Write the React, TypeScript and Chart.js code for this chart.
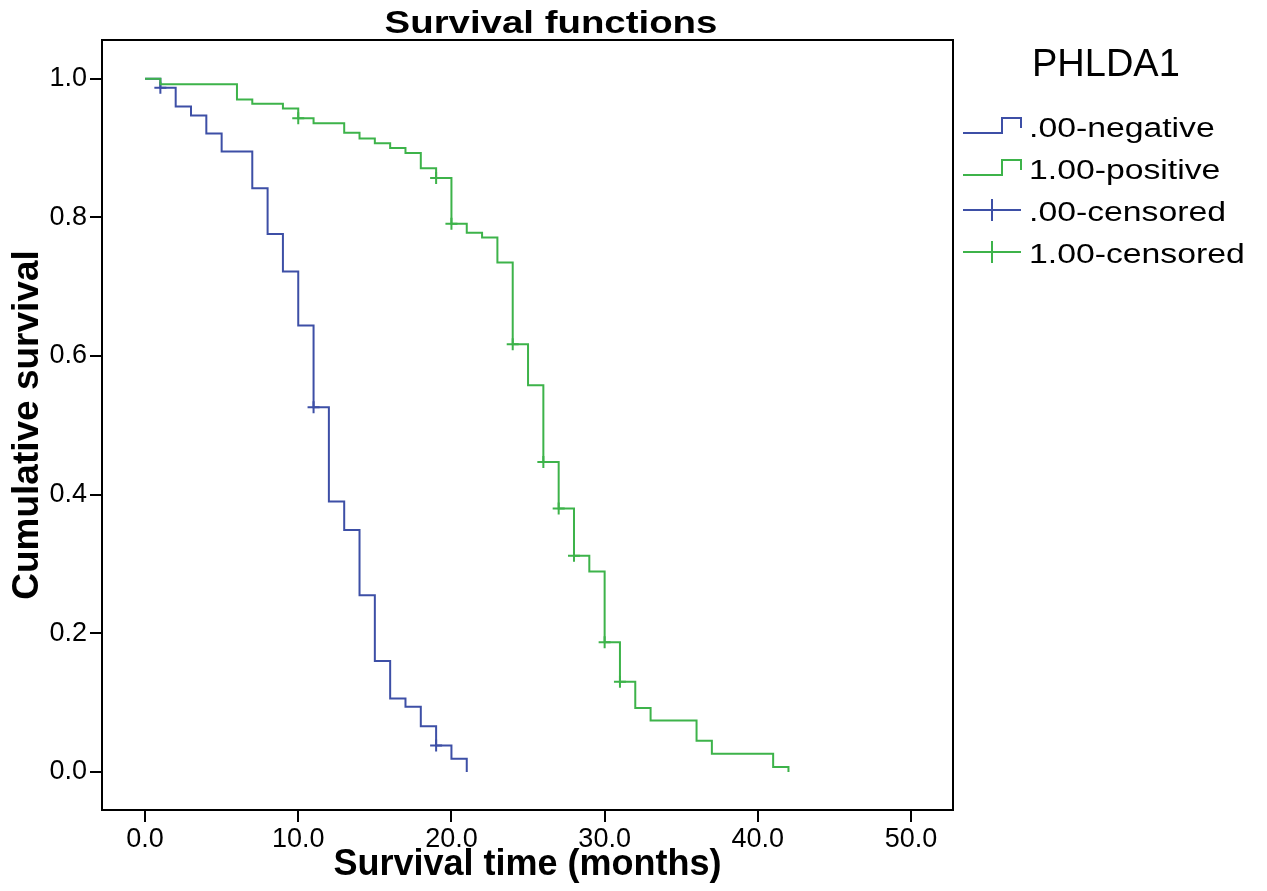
import { useEffect, useRef } from "react";
import { Chart, registerables } from "chart.js";

Chart.register(...registerables);

// ---- data ----
const negativeTimes = [0, 1, 2, 3, 4, 5, 7, 8, 9, 10, 11, 12, 13, 14, 15, 16, 17, 18, 19, 20, 21];
const negativeSurvival = [1.0, 0.987, 0.96, 0.947, 0.921, 0.895, 0.842, 0.776, 0.722, 0.644, 0.526, 0.39, 0.349, 0.255, 0.16, 0.106, 0.094, 0.066, 0.038, 0.019, 0.0];
const negativeCensorTimes = [1, 11, 19];
const negativeCensorSurvival = [0.987, 0.526, 0.038];

const positiveTimes = [0, 1, 6, 7, 9, 10, 11, 13, 14, 15, 16, 17, 18, 19, 20, 21, 22, 23, 24, 25, 26, 27, 28, 29, 30, 31, 32, 33, 36, 37, 41, 42];
const positiveSurvival = [1.0, 0.992, 0.97, 0.964, 0.957, 0.943, 0.936, 0.922, 0.914, 0.907, 0.9, 0.893, 0.871, 0.857, 0.791, 0.778, 0.771, 0.735, 0.617, 0.558, 0.447, 0.38, 0.312, 0.289, 0.187, 0.13, 0.092, 0.074, 0.045, 0.026, 0.007, 0.0];
const positiveCensorTimes = [10, 19, 20, 24, 26, 27, 28, 30, 31];
const positiveCensorSurvival = [0.943, 0.857, 0.791, 0.617, 0.447, 0.38, 0.312, 0.187, 0.13];

const xTickValues = [0, 10, 20, 30, 40, 50];
const yTickValues = [0, 0.2, 0.4, 0.6, 0.8, 1.0];

const chartTitle = "Survival functions";
const xAxisTitle = "Survival time (months)";
const yAxisTitle = "Cumulative survival";
const legendTitle = "PHLDA1";
const legendLabels = [".00-negative", "1.00-positive", ".00-censored", "1.00-censored"];

const BLUE = "#3d4fa6";
const GREEN = "#3db34a";
const FONT = '"Liberation Sans", Arial, Helvetica, sans-serif';

function toPoints(xs: number[], ys: number[]) {
  return xs.map((x, i) => ({ x, y: ys[i] }));
}

function scaledText(
  ctx: CanvasRenderingContext2D,
  text: string,
  x: number,
  y: number,
  font: string,
  sx: number,
  align: CanvasTextAlign
) {
  ctx.save();
  ctx.translate(x, y);
  ctx.scale(sx, 1);
  ctx.font = font;
  ctx.fillStyle = "#000";
  ctx.textAlign = align;
  ctx.textBaseline = "alphabetic";
  ctx.fillText(text, 0, 0);
  ctx.restore();
}

const decorPlugin = {
  id: "decor",
  afterDraw(chart: any) {
    const ctx: CanvasRenderingContext2D = chart.ctx;
    const a = chart.chartArea;
    ctx.save();
    ctx.strokeStyle = "#000";
    ctx.lineWidth = 2;
    ctx.strokeRect(a.left, a.top, a.right - a.left, a.bottom - a.top);

    scaledText(ctx, chartTitle, 551, 33, `bold 32px ${FONT}`, 1.2, "center");
    scaledText(ctx, legendTitle, 1032, 76, `38px ${FONT}`, 1.0, "left");

    const colors = [BLUE, GREEN, BLUE, GREEN];
    legendLabels.forEach((label, i) => {
      const c = 126 + i * 42;
      ctx.strokeStyle = colors[i];
      ctx.lineWidth = 2;
      ctx.beginPath();
      if (i < 2) {
        ctx.moveTo(963, c + 7);
        ctx.lineTo(1002, c + 7);
        ctx.lineTo(1002, c - 8);
        ctx.lineTo(1021, c - 8);
        ctx.lineTo(1021, c + 2);
      } else {
        ctx.moveTo(963, c);
        ctx.lineTo(1021, c);
        ctx.moveTo(992, c - 11);
        ctx.lineTo(992, c + 11);
      }
      ctx.stroke();
      scaledText(ctx, label, 1029, c + 11, `27px ${FONT}`, 1.25, "left");
    });
    ctx.restore();
  },
};

export default function App() {
  const ref = useRef<HTMLCanvasElement | null>(null);

  useEffect(() => {
    if (!ref.current) return;
    const chart = new Chart(ref.current, {
      type: "line",
      data: {
        datasets: [
          {
            label: legendLabels[1],
            data: toPoints(positiveTimes, positiveSurvival),
            borderColor: GREEN,
            borderWidth: 2,
            stepped: true,
            pointRadius: 0,
            fill: false,
          },
          {
            label: legendLabels[3],
            data: toPoints(positiveCensorTimes, positiveCensorSurvival),
            borderColor: GREEN,
            showLine: false,
            pointStyle: "cross",
            pointRadius: 6,
            pointBorderWidth: 2,
            pointBorderColor: GREEN,
          },
          {
            label: legendLabels[0],
            data: toPoints(negativeTimes, negativeSurvival),
            borderColor: BLUE,
            borderWidth: 2,
            stepped: true,
            pointRadius: 0,
            fill: false,
          },
          {
            label: legendLabels[2],
            data: toPoints(negativeCensorTimes, negativeCensorSurvival),
            borderColor: BLUE,
            showLine: false,
            pointStyle: "cross",
            pointRadius: 6,
            pointBorderWidth: 2,
            pointBorderColor: BLUE,
          },
        ],
      },
      options: {
        animation: false,
        responsive: false,
        devicePixelRatio: 1,
        layout: { padding: { top: 40, right: 314, left: 0, bottom: 0 } },
        plugins: {
          legend: { display: false },
          title: { display: false },
          tooltip: { enabled: false },
        },
        scales: {
          x: {
            type: "linear",
            min: -2.81,
            max: 52.74,
            afterFit: (s: any) => {
              s.height = 81;
            },
            afterBuildTicks: (s: any) => {
              s.ticks = xTickValues.map((v) => ({ value: v }));
            },
            grid: {
              drawOnChartArea: false,
              drawTicks: true,
              tickLength: 12,
              color: "#000",
              lineWidth: 2,
            },
            border: { display: true, color: "#000", width: 2 },
            ticks: {
              color: "#000",
              padding: 1,
              font: { family: FONT, size: 27 },
              callback: (v: any) => Number(v).toFixed(1),
              maxRotation: 0,
            },
            title: {
              display: true,
              text: xAxisTitle,
              color: "#000",
              font: { family: FONT, size: 36, weight: "bold" },
              padding: { top: 0, bottom: 4 },
            },
          },
          y: {
            type: "linear",
            min: -0.055,
            max: 1.056,
            afterFit: (s: any) => {
              s.width = 102;
            },
            afterBuildTicks: (s: any) => {
              s.ticks = yTickValues.map((v) => ({ value: v }));
            },
            grid: {
              drawOnChartArea: false,
              drawTicks: true,
              tickLength: 12,
              color: "#000",
              lineWidth: 2,
            },
            border: { display: true, color: "#000", width: 2 },
            ticks: {
              color: "#000",
              padding: 3,
              font: { family: FONT, size: 27 },
              callback: (v: any) => Number(v).toFixed(1),
            },
            title: {
              display: true,
              text: yAxisTitle,
              color: "#000",
              font: { family: FONT, size: 37, weight: "bold" },
              padding: { top: 6, bottom: 0 },
            },
          },
        },
      },
      plugins: [decorPlugin],
    } as any);
    return () => chart.destroy();
  }, []);

  return (
    <div style={{ position: "fixed", left: 0, top: 0, width: 1267, height: 891, background: "#fff" }}>
      <canvas ref={ref} width={1267} height={891} style={{ display: "block" }} />
    </div>
  );
}
